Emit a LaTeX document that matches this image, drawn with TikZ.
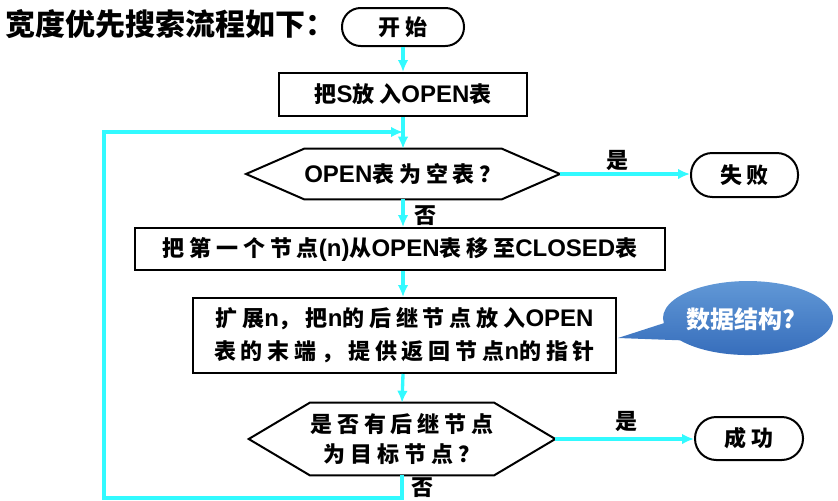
\documentclass[tikz,border=0pt]{standalone}
\usepackage{fontspec}
\setmainfont{Liberation Sans}
\newfontfamily\cjkf{Noto Sans CJK SC}[LetterSpace=22]
\newfontfamily\titlef{Noto Sans CJK SC}
\usetikzlibrary{arrows.meta,calc}
\newcommand{\C}[1]{{\cjkf\bfseries\fontsize{16.5pt}{24pt}\selectfont #1}}
\definecolor{flowc}{RGB}{50,250,255}
\definecolor{bubtop}{RGB}{100,155,216}
\definecolor{bubbot}{RGB}{52,107,186}
\tikzset{
  boxsty/.style={draw, line width=1.5pt, inner sep=0pt, align=center,
    font=\bfseries\fontsize{18pt}{24.75pt}\selectfont},
  termsty/.style={boxsty, rounded corners=15pt},
  hextext/.style={inner sep=0pt, align=center,
    font=\bfseries\fontsize{18pt}{22.5pt}\selectfont},
  hexline/.style={draw, line width=1.5pt, line join=miter},
  flow/.style={draw=flowc, line width=2.5pt, line join=miter, -{Latex[length=9pt,width=8pt]}},
  lab/.style={inner sep=0pt, font=\bfseries},
  bubtext/.style={inner sep=0pt, text=white, font=\titlef\bfseries\fontsize{18pt}{22pt}\selectfont},
}
\begin{document}
\begin{tikzpicture}[x=0.75pt,y=-0.75pt]
\useasboundingbox (0,0) rectangle (838,500);
% title
\node[anchor=west, inner sep=0pt, font=\titlef\bfseries\fontsize{22.5pt}{26pt}\selectfont] (title) at (5,24) {宽度优先搜索流程如下：};
% nodes
\node[termsty, rounded corners=14pt, minimum width=91.5pt, minimum height=28.5pt] (start) at (403,27) {\C{开始}};
\node[boxsty, minimum width=186pt, minimum height=32.25pt] (box1) at (403,94.5) {\C{把}S\C{放入}OPEN\C{表}};
\node[hextext, minimum width=127.5pt, minimum height=37.5pt] (d1) at (403,174) {OPEN\C{表为空表？}};
\coordinate (d1e) at ($(d1.east)+(58,0)$);
\coordinate (d1w) at ($(d1.west)+(-58,0)$);
\draw[hexline] (d1.north west) -- (d1.north east) -- (d1e) -- (d1.south east) -- (d1.south west) -- (d1w) -- cycle;
\node[termsty, rounded corners=16pt, minimum width=80.25pt, minimum height=33pt] (fail) at (744.5,175) {\C{失败}};
\node[boxsty, minimum width=397.5pt, minimum height=31.5pt] (box2) at (400,249) {\C{把第一个节点}(n)\C{从}OPEN\C{表移至}CLOSED\C{表}};
\node[boxsty, minimum width=317.25pt, minimum height=56.25pt] (box3) at (404.5,335.5) {\C{扩展}n\C{，把}n\C{的后继节点放入}OPEN\\\C{表的末端，提供返回节点}n\C{的指针}};
\node[hextext, minimum width=138pt, minimum height=54pt] (d2) at (402,439) {\C{是否有后继节点}\\\C{为目标节点？}};
\coordinate (d2e) at ($(d2.east)+(61,0)$);
\coordinate (d2w) at ($(d2.west)+(-61,0)$);
\draw[hexline] (d2.north west) -- (d2.north east) -- (d2e) -- (d2.south east) -- (d2.south west) -- (d2w) -- cycle;
\node[termsty, rounded corners=16pt, minimum width=81pt, minimum height=32.25pt] (succ) at (749,438.5) {\C{成功}};
% callout bubble
\coordinate (tip) at ($(box3.east)+(1,2.5)$);
\shade[top color=bubtop, bottom color=bubbot] (tip) -- (680.1,340.3) arc[start angle=217, end angle=548, x radius=63.75pt, y radius=27.75pt] -- cycle;
\node[bubtext] (bub) at (741,319) {数据结构?};
% connectors
\draw[flow] (start) -- (box1);
\draw[flow] (box1.south) -- (d1.north);
\draw[flow] (d1.south) -- node[lab, right=7pt, pos=0.6] (no1) {\C{否}} (d1.south |- box2.north);
\draw[flow] (d1.south |- box2.south) -- (d1.south |- box3.north);
\draw[flow] (d1.south |- box3.south) -- (d2.north);
\draw[flow] (d1e) -- node[lab, above=1pt, pos=0.44] (yes1) {\C{是}} (d1e -| fail.west);
\draw[flow] (d2e) -- node[lab, above=4pt, pos=0.51] (yes2) {\C{是}} (d2e -| succ.west);
\coordinate (fb1) at (402,498);
\coordinate (fb2) at (104,498);
\coordinate (fb3) at (104,132);
\coordinate (fb4) at (403,132);
\draw[flow] (d2.south) -- node[lab, right=6pt, pos=0.55] (no2) {\C{否}} (fb1) -- (fb2) -- (fb3) -- (fb4);
\end{tikzpicture}
\end{document}
